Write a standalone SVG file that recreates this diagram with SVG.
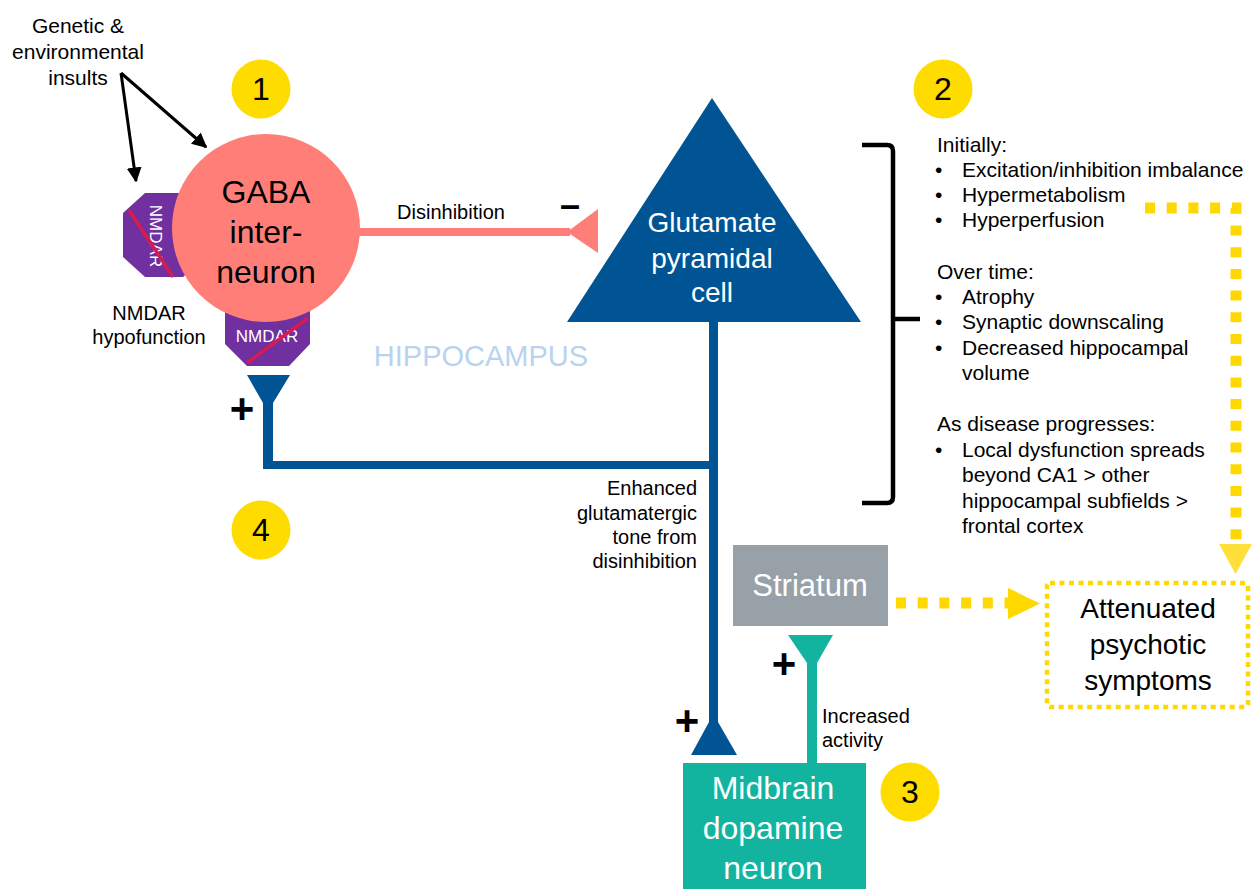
<svg xmlns="http://www.w3.org/2000/svg" width="1257" height="889" viewBox="0 0 1257 889">
<defs>
<style>
text{font-family:"Liberation Sans",Arial,Helvetica,sans-serif;}
.t20{font-size:20px;fill:#000;}
.t21{font-size:21px;fill:#000;}
.num{font-size:32px;fill:#000;text-anchor:middle;}
.sign{font-size:42px;font-weight:bold;fill:#000;text-anchor:middle;}
.wht{fill:#fff;text-anchor:middle;}
.badge{fill:#FFDC00;}
.blue{fill:#005493;}
.teal{fill:#12B49F;}
.ydash{fill:none;stroke:#FFD800;stroke-width:11;stroke-dasharray:10 11.7;}
</style>
<marker id="ah" viewBox="0 0 10 10" refX="9" refY="5" markerWidth="5" markerHeight="5" orient="auto" markerUnits="strokeWidth">
<path d="M0,0 L10,5 L0,10 z" fill="#000"/>
</marker>
</defs>
<rect width="1257" height="889" fill="#fff"/>

<g id="badge1"><circle class="badge" cx="261" cy="89" r="29.5"/><text class="num" x="261" y="100">1</text></g>
<g id="badge2"><circle class="badge" cx="943" cy="89" r="29.5"/><text class="num" x="943" y="100">2</text></g>
<g id="badge3"><circle class="badge" cx="910" cy="792" r="29.5"/><text class="num" x="910" y="803">3</text></g>
<g id="badge4"><circle class="badge" cx="261" cy="530" r="29.5"/><text class="num" x="261" y="541">4</text></g>

<g id="insults">
<text class="t21" x="78" y="33" text-anchor="middle">Genetic &amp;</text>
<text class="t21" x="78" y="59" text-anchor="middle">environmental</text>
<text class="t21" x="78" y="85" text-anchor="middle">insults</text>
</g>

<g id="connectors">
<line x1="121" y1="73" x2="206" y2="147" stroke="#000" stroke-width="3" marker-end="url(#ah)"/>
<line x1="121" y1="73" x2="136" y2="181" stroke="#000" stroke-width="3" marker-end="url(#ah)"/>
<rect x="355" y="228" width="215" height="8" fill="#FF7F78"/>
<polygon points="567,232 598,209 598,253" fill="#FF7F78"/>
<polygon class="blue" points="247,375 290,375 273,403 263,403"/>
<rect class="blue" x="263" y="400" width="10" height="69"/>
<rect class="blue" x="263" y="461" width="455" height="8"/>
<rect class="blue" x="709" y="318" width="9" height="410"/>
<polygon class="blue" points="709,722 718,722 737,755 691,755"/>
<polygon class="teal" points="788,635 833,635 817,663 807,663"/>
<rect class="teal" x="807" y="660" width="10" height="104"/>
<path class="ydash" d="M1145,208 H1236 V543" stroke="#FFDA2A"/>
<polygon points="1219,544 1252,544 1235.5,574" fill="#FFDF3A"/>
<path class="ydash" d="M896,603 H1008" stroke-dasharray="10 10.5"/>
<polygon points="1008,588 1008,619 1040,603.5" fill="#FFD800"/>
<path d="M862,145 H887 Q893,145 893,151 V497 Q893,503 887,503 H862 M893,319 H920" fill="none" stroke="#000" stroke-width="4.5"/>
</g>

<g id="nmdar-left">
<polygon points="145,193 183,193 205,213 205,257 183,277 145,277 123,257 123,213" fill="#7030A0"/>
<text class="wht" x="156" y="236" font-size="17" transform="rotate(90 156 236)" dy="6">NMDAR</text>
<line x1="129" y1="210" x2="173" y2="277" stroke="#D81B4E" stroke-width="3.5"/>
</g>
<g id="nmdar-bottom">
<polygon points="247,290 289,290 310,311 310,344 289,366 247,366 225,344 225,311" fill="#7030A0"/>
<text class="wht" x="267" y="342" font-size="17">NMDAR</text>
<line x1="247" y1="363" x2="308" y2="318" stroke="#D81B4E" stroke-width="3.5"/>
</g>

<g id="gaba">
<circle cx="266" cy="228" r="94" fill="#FF7F78"/>
<text x="266" y="203" font-size="32" text-anchor="middle">GABA</text>
<text x="266" y="243" font-size="32" text-anchor="middle">inter-</text>
<text x="266" y="283" font-size="32" text-anchor="middle">neuron</text>
</g>

<g id="nmdar-label">
<text class="t20" x="149" y="320" text-anchor="middle">NMDAR</text>
<text class="t20" x="149" y="344" text-anchor="middle">hypofunction</text>
</g>

<g id="disinhibition">
<text class="t20" x="451" y="219" text-anchor="middle">Disinhibition</text>
<text x="570" y="217" font-size="36" font-weight="bold" text-anchor="middle">–</text>
</g>

<g id="pyramidal">
<polygon class="blue" points="712,98 567,322 861,322"/>
<text class="wht" x="712" y="232" font-size="28">Glutamate</text>
<text class="wht" x="712" y="268" font-size="28">pyramidal</text>
<text class="wht" x="712" y="302" font-size="28">cell</text>
</g>

<text id="hippocampus" x="481" y="366" font-size="29" fill="#B9D3EE" text-anchor="middle">HIPPOCAMPUS</text>

<g id="signs">
<text class="sign" x="242" y="423">+</text>
<text class="sign" x="687" y="735">+</text>
<text class="sign" x="784" y="678">+</text>
</g>

<g id="enhanced" text-anchor="end">
<text class="t20" x="697" y="495">Enhanced</text>
<text class="t20" x="697" y="520">glutamatergic</text>
<text class="t20" x="697" y="544">tone from</text>
<text class="t20" x="697" y="568">disinhibition</text>
</g>

<g id="increased">
<text class="t20" x="822" y="723">Increased</text>
<text class="t20" x="822" y="747">activity</text>
</g>

<g id="changes">
<text class="t21" x="937" y="152">Initially:</text>
<text class="t21" x="935" y="177">•</text><text class="t21" x="962" y="177">Excitation/inhibition imbalance</text>
<text class="t21" x="935" y="202">•</text><text class="t21" x="962" y="202">Hypermetabolism</text>
<text class="t21" x="935" y="227">•</text><text class="t21" x="962" y="227">Hyperperfusion</text>
<text class="t21" x="937" y="279">Over time:</text>
<text class="t21" x="935" y="304">•</text><text class="t21" x="962" y="304">Atrophy</text>
<text class="t21" x="935" y="329">•</text><text class="t21" x="962" y="329">Synaptic downscaling</text>
<text class="t21" x="935" y="355">•</text><text class="t21" x="962" y="355">Decreased hippocampal</text>
<text class="t21" x="962" y="380">volume</text>
<text class="t21" x="937" y="431">As disease progresses:</text>
<text class="t21" x="935" y="457">•</text><text class="t21" x="962" y="457">Local dysfunction spreads</text>
<text class="t21" x="962" y="482">beyond CA1 &gt; other</text>
<text class="t21" x="962" y="508">hippocampal subfields &gt;</text>
<text class="t21" x="962" y="533">frontal cortex</text>
</g>

<g id="striatum">
<rect x="733" y="545" width="155" height="81" fill="#97A1A7"/>
<text class="wht" x="810" y="596" font-size="31">Striatum</text>
</g>

<g id="midbrain">
<rect x="683" y="763" width="183" height="126" fill="#12B49F"/>
<text class="wht" x="773" y="799" font-size="32">Midbrain</text>
<text class="wht" x="773" y="839" font-size="32">dopamine</text>
<text class="wht" x="773" y="879" font-size="32">neuron</text>
</g>

<g id="attenuated">
<rect x="1047" y="583" width="201" height="124" rx="3" fill="none" stroke="#FFD800" stroke-width="4.5" stroke-dasharray="5 4.5"/>
<text x="1148" y="618" font-size="28" text-anchor="middle">Attenuated</text>
<text x="1148" y="654" font-size="28" text-anchor="middle">psychotic</text>
<text x="1148" y="690" font-size="28" text-anchor="middle">symptoms</text>
</g>
</svg>
